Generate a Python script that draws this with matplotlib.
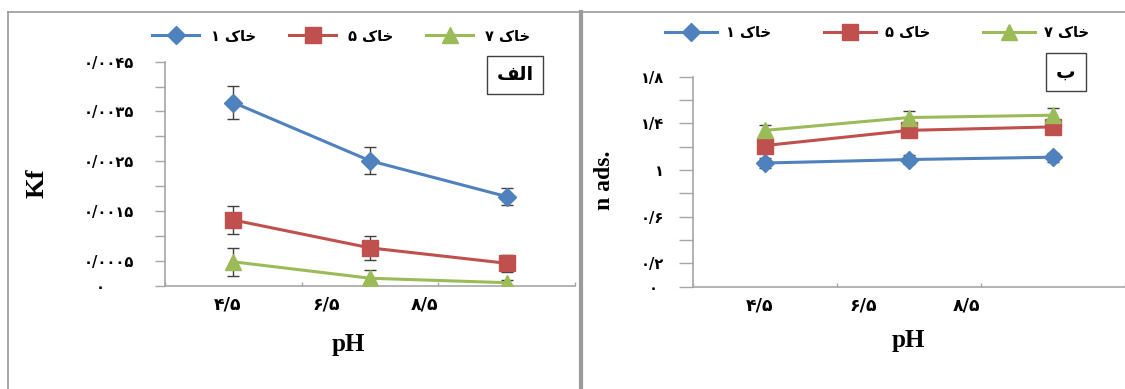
import matplotlib
matplotlib.use("Agg")
import matplotlib.pyplot as plt
from matplotlib.lines import Line2D
from matplotlib.transforms import ScaledTranslation
import numpy as np

OUT = "out.png"

# data
ph_labels = ["۴/۵", "۶/۵", "۸/۵"]
soils = ["۱", "۵", "۷"]

kf_soil1 = [0.00368, 0.00251, 0.00179]
kf_soil5 = [0.00132, 0.00076, 0.00045]
kf_soil7 = [0.00048, 0.00015, 0.00006]
kf_err1 = [0.00033, 0.00027, 0.00017]
kf_err5 = [0.00029, 0.00024, 0.00017]
kf_err7 = [0.00028, 0.00017, 0.00005]

n_soil1 = [1.06, 1.09, 1.11]
n_soil5 = [1.21, 1.34, 1.37]
n_soil7 = [1.34, 1.45, 1.47]
n_err1 = [0.04, 0.04, 0.04]
n_err5 = [0.05, 0.05, 0.05]
n_err7 = [0.05, 0.06, 0.06]

kf_ticks = [0, 0.0005, 0.001, 0.0015, 0.002, 0.0025, 0.003, 0.0035, 0.004, 0.0045]
kf_ticklabels = ["۰", "۰/۰۰۰۵", "", "۰/۰۰۱۵", "", "۰/۰۰۲۵", "", "۰/۰۰۳۵", "", "۰/۰۰۴۵"]
n_ticks = [0, 0.2, 0.4, 0.6, 0.8, 1.0, 1.2, 1.4, 1.6, 1.8]
n_ticklabels = ["۰", "۰/۲", "", "۰/۶", "", "۱", "", "۱/۴", "", "۱/۸"]

COLORS = ["#4F81BD", "#C0504D", "#9BBB59"]
MARKERS = [("D", 9.5), ("s", 11.5), ("^", 12)]
FA = ["DejaVu Sans"]
SERIF = ["Liberation Serif", "DejaVu Serif"]

# "خاک" shaped by hand (presentation forms, visual order) since matplotlib has no shaping
KHAK = "\uFB8E\uFE8E\uFEA7"
ALEF_LAM_FE = "\uFED2\uFEDF\uFE8D"
BE = "\uFE8F"

x = np.arange(3) + 0.5
label_pos = [0.46, 1.18, 1.9]   # excel put the category labels off-centre

fig = plt.figure(figsize=(11.25, 3.89), dpi=100)
axA = fig.add_axes([165/1125, 1-285.7/389, 410/1125, 224/389])
axB = fig.add_axes([693/1125, 1-286.7/389, 432/1125, 210/389])


def draw(ax, series, errs, ticks, ticklabels, top, zero_shift, tlen, pad):
    handles = []
    for y, e, c, (m, ms), s in zip(series, errs, COLORS, MARKERS, soils):
        ax.errorbar(x, y, yerr=e, fmt="none", ecolor="#404040", elinewidth=1,
                    capsize=4, capthick=1, zorder=2)
        h, = ax.plot(x, y, color=c, lw=2.2, marker=m, ms=ms, mec=c, mfc=c, zorder=3,
                     label=s + " " + KHAK)
        handles.append(h)
    ax.set_xlim(0, 3)
    ax.set_ylim(0, top)
    for sp in ["top", "right"]:
        ax.spines[sp].set_visible(False)
    for sp in ["left", "bottom"]:
        ax.spines[sp].set_color("#a6a6a6")
        ax.spines[sp].set_linewidth(1.2)
    ax.set_yticks(ticks)
    ax.set_yticklabels(ticklabels, family=FA, fontweight="bold", fontsize=10.5)
    ax.tick_params(axis="y", length=tlen, width=1, color="#a6a6a6", pad=pad)
    ax.set_xticks([0, 1, 2, 3])
    ax.set_xticklabels([])
    ax.tick_params(axis="x", direction="in", length=3, width=1, color="#a6a6a6")
    ax.set_xticks(label_pos, ph_labels, minor=True)
    ax.tick_params(axis="x", which="minor", length=0, pad=7)
    for t in ax.get_xticklabels(minor=True):
        t.set_family(FA)
        t.set_fontweight("bold")
        t.set_fontsize(12.5)
    zl = ax.get_yticklabels()[0]
    zl.set_transform(zl.get_transform() + ScaledTranslation(zero_shift/100, 0, fig.dpi_scale_trans))
    ax.set_facecolor("none")
    return handles


hA = draw(axA, [kf_soil1, kf_soil5, kf_soil7], [kf_err1, kf_err5, kf_err7],
          kf_ticks, kf_ticklabels, 0.0045, -30, 7, 15)
hB = draw(axB, [n_soil1, n_soil5, n_soil7], [n_err1, n_err5, n_err7],
          n_ticks, n_ticklabels, 1.8, -6, 10, 11)

# legends across the top of each panel
fig.legend(handles=hA, loc="center", bbox_to_anchor=(341/1125, 1-36/389), ncol=3,
           frameon=False, handlelength=3.2, handletextpad=0.8, columnspacing=2.3,
           prop={"family": FA, "size": 10.5, "weight": "bold"})
fig.legend(handles=hB, loc="center", bbox_to_anchor=(877/1125, 1-33/389), ncol=3,
           frameon=False, handlelength=3.6, handletextpad=0.6, columnspacing=3.6,
           prop={"family": FA, "size": 10.5, "weight": "bold"})

# panel letters in boxes
fig.text(515/1125, 1-75/389, ALEF_LAM_FE, ha="center", va="center", family=FA,
         fontweight="bold", fontsize=14,
         bbox=dict(boxstyle="square,pad=0.5", fc="white", ec="#404040", lw=1))
fig.text(1066/1125, 1-72/389, BE, ha="center", va="center", family=FA,
         fontweight="bold", fontsize=14,
         bbox=dict(boxstyle="square,pad=0.5", fc="white", ec="#404040", lw=1))

# axis titles
fig.text(37/1125, 1-183/389, "Kf", rotation=90, ha="center", va="center",
         family=SERIF, fontweight="bold", fontsize=19)
fig.text(604/1125, 1-180/389, "n ads.", rotation=90, ha="center", va="center",
         family=SERIF, fontweight="bold", fontsize=17)
fig.text(348/1125, 1-345/389, "pH", ha="center", va="center",
         family=SERIF, fontweight="bold", fontsize=18)
fig.text(908/1125, 1-340/389, "pH", ha="center", va="center",
         family=SERIF, fontweight="bold", fontsize=18)

# panel frames
gray = "#9a9a9a"
fig.add_artist(Line2D([8/1125, 8/1125], [0, 1-12/389], color=gray, lw=1.2))
fig.add_artist(Line2D([8/1125, 1], [1-12/389, 1-12/389], color=gray, lw=1.2))
fig.add_artist(Line2D([581/1125, 581/1125], [0, 1-12/389], color=gray, lw=3))

fig.savefig(OUT, dpi=100)
print("saved", OUT)
